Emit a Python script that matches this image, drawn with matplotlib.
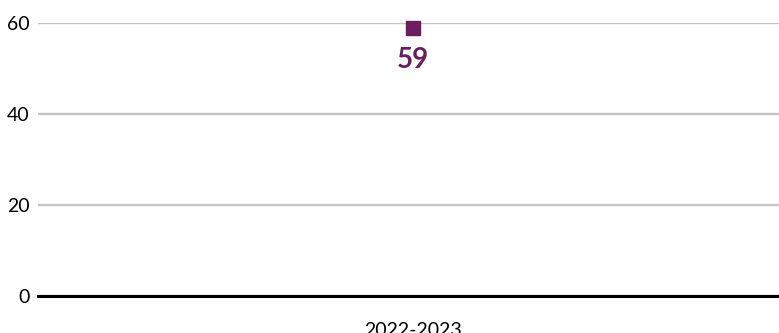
import matplotlib
matplotlib.use("Agg")
import matplotlib.pyplot as plt

plt.rcParams['font.family'] = ['Lato', 'DejaVu Sans']

# data
categories = ['2022-2023']
values = [59]
yticks = [0, 20, 40, 60]

purple = '#6b1d5f'

fig = plt.figure(figsize=(7.79, 3.33), dpi=100)
ax = fig.add_axes([38 / 779, 37 / 333, 741 / 779, 273 / 333])

xs = list(range(len(categories)))
ax.scatter(xs, values, marker='s', s=110, color=purple, zorder=5, clip_on=False)
for x, v in zip(xs, values):
    ax.annotate(str(v), (x, v), xytext=(0, -14), textcoords='offset points',
                ha='center', va='top', fontsize=20, fontweight='bold', color=purple)

ax.set_xlim(-0.506, 0.494)
ax.set_ylim(0, 60)
ax.set_xticks(xs)
ax.set_xticklabels(categories, fontsize=14)
ax.set_yticks(yticks)
ax.set_yticklabels([str(t) for t in yticks], fontsize=14)

ax.grid(axis='y', color='#c4c4c4', linewidth=1.7, zorder=0)
ax.set_axisbelow(True)
ax.axhline(0, color='black', linewidth=2.2, zorder=3, clip_on=False)

for s in ax.spines.values():
    s.set_visible(False)
ax.tick_params(axis='both', length=0)
ax.tick_params(axis='y', pad=6)
ax.tick_params(axis='x', pad=19)

fig.savefig('out.png', dpi=100)
